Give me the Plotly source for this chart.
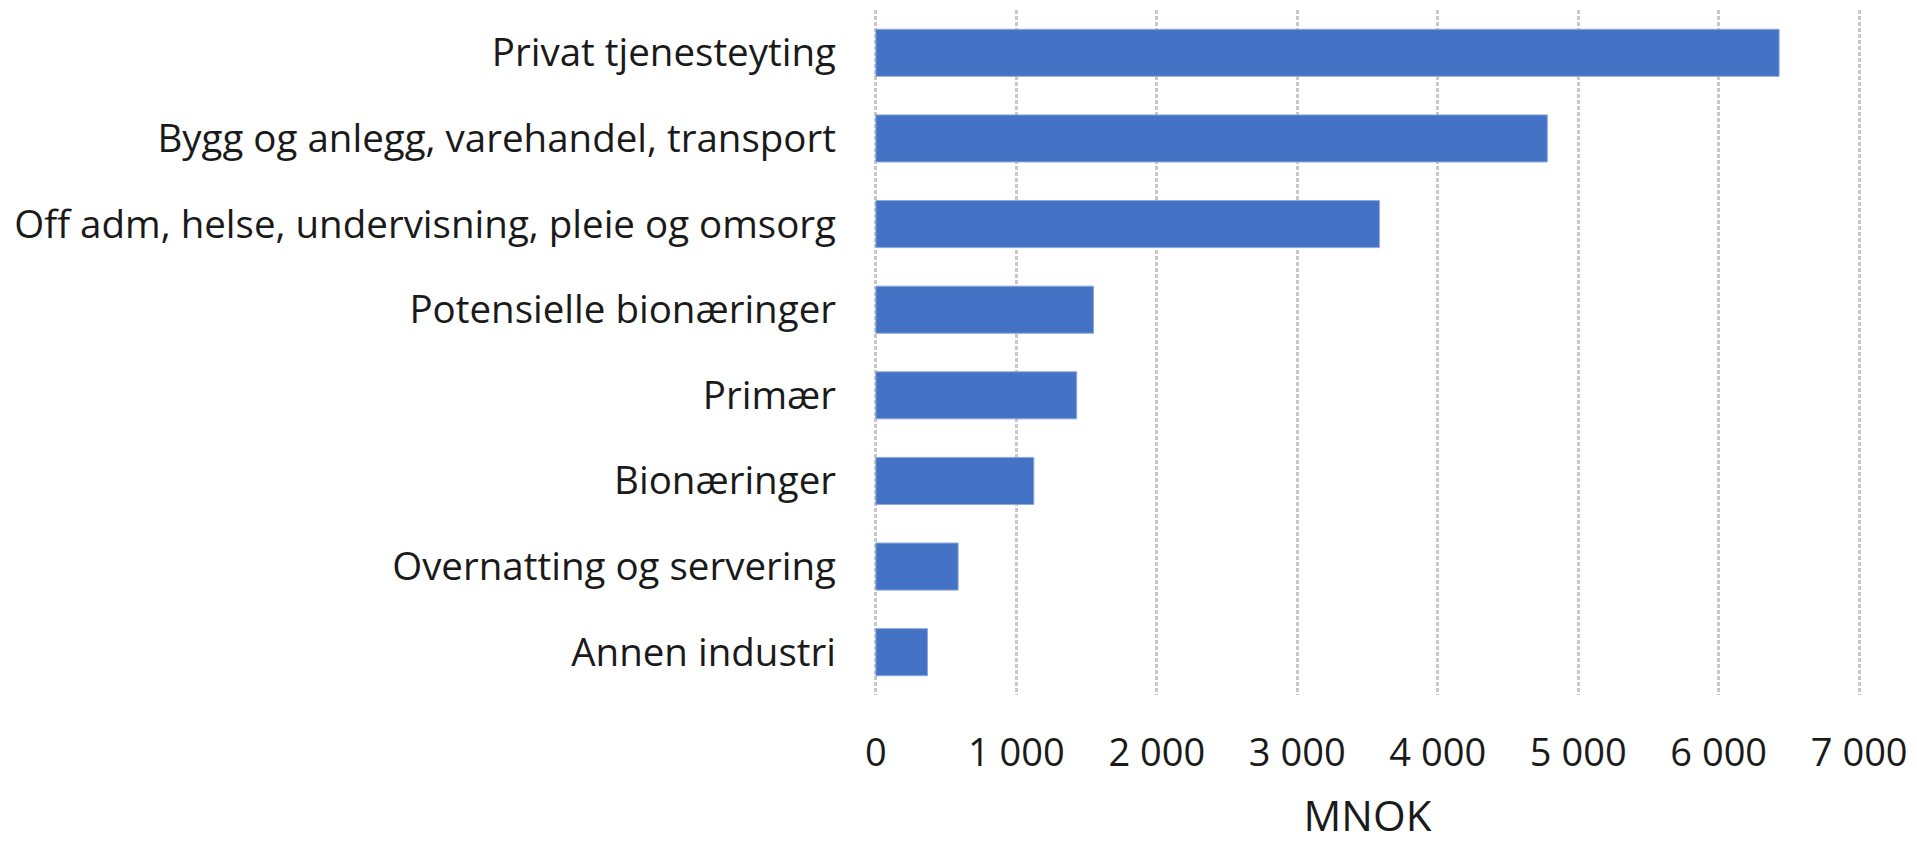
import plotly.graph_objects as go

categories = [
    "Privat tjenesteyting",
    "Bygg og anlegg, varehandel, transport",
    "Off adm, helse, undervisning, pleie og omsorg",
    "Potensielle bionæringer",
    "Primær",
    "Bionæringer",
    "Overnatting og servering",
    "Annen industri",
]
values = [6430, 4780, 3585, 1550, 1430, 1125, 586, 368]
x_ticks = [0, 1000, 2000, 3000, 4000, 5000, 6000, 7000]
x_title = "MNOK"

FONT = "Open Sans"
TXT = "#1a1a1a"

fig = go.Figure(
    go.Bar(
        x=values,
        y=categories,
        orientation="h",
        marker=dict(color="#4472C4", line=dict(color="#8eaadb", width=1)),
        hoverinfo="x+y",
    )
)

fig.update_layout(
    width=1909,
    height=835,
    margin=dict(l=865, r=55, t=2, b=148, autoexpand=False),
    paper_bgcolor="white",
    plot_bgcolor="white",
    bargap=0.45,
    showlegend=False,
    separators=", ",
    font=dict(family=FONT, color=TXT, size=38),
)

fig.update_xaxes(
    range=[-20, 7020],
    tickvals=x_ticks,
    tickformat=",d",
    separatethousands=True,
    showgrid=True,
    gridcolor="#c8c8c8",
    gridwidth=3,
    griddash="4px,2px",
    zeroline=False,
    showline=False,
    ticks="",
    ticklabelstandoff=32,
    tickfont=dict(family=FONT, size=38, color=TXT),
    title=dict(text=x_title, font=dict(family=FONT, size=42, color=TXT), standoff=42),
    automargin=False,
    fixedrange=True,
)

fig.update_yaxes(
    autorange="reversed",
    showgrid=False,
    zeroline=False,
    showline=False,
    ticks="",
    ticklabelstandoff=36,
    tickfont=dict(family=FONT, size=38.5, color=TXT),
    automargin=False,
    fixedrange=True,
)

fig.write_html("out.html")
